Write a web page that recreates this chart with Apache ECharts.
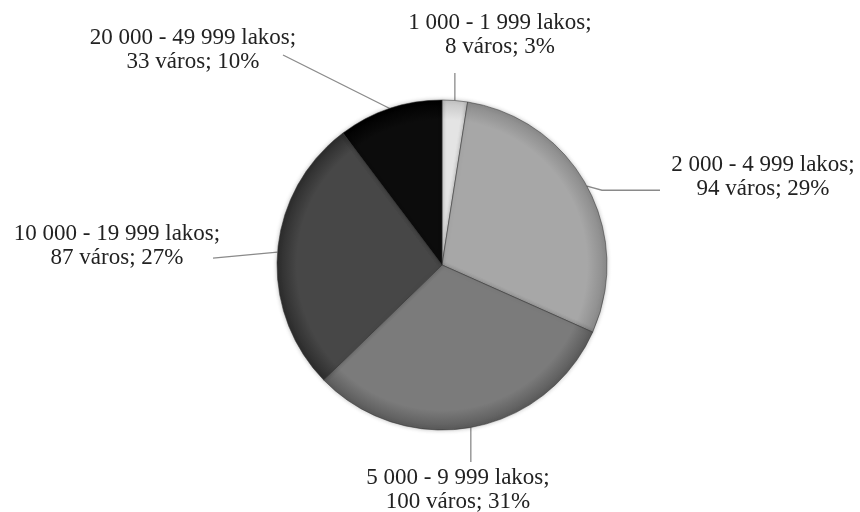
<!DOCTYPE html>
<html>
<head>
<meta charset="utf-8">
<script src="https://cdn.jsdelivr.net/npm/echarts@6/dist/echarts.min.js"></script>
<style>
html,body{margin:0;padding:0;background:#fff;}
#chart{width:860px;height:512px;}
</style>
</head>
<body>
<div id="chart"></div>
<script>
// Data
const categories = ['1 000 - 1 999 lakos', '2 000 - 4 999 lakos', '5 000 - 9 999 lakos', '10 000 - 19 999 lakos', '20 000 - 49 999 lakos'];
const towns = [8, 94, 100, 87, 33];
const percents = [3, 29, 31, 27, 10];

// Styling / layout
const baseColors = ['#e4e4e4', '#a7a7a7', '#7b7b7b', '#474747', '#0c0c0c'];
const rimColors = ['#c4c4c4', '#8a8a8a', '#5a5a5a', '#2c2c2c', '#000000'];
const CX = 442, CY = 265, R = 165;
// label block centres and leader-line end offsets
const labelLayouts = [
  { x: 500, y: 35, line: function (a) { return [a, [a[0], 73], [a[0], 73]]; } },
  { x: 763, y: 177, line: function (a) { return [a, [a[0] + 15, a[1] + 4], [660, a[1] + 4]]; } },
  { x: 458, y: 490, line: function (a) { return [a, [a[0], 462], [a[0], 462]]; } },
  { x: 117, y: 246, line: function (a) { return [a, [213, a[1] + 6], [213, a[1] + 6]]; } },
  { x: 193, y: 50, line: function (a) { return [a, [283, 55], [283, 55]]; } }
];

const data = categories.map(function (c, i) {
  return {
    name: c,
    value: towns[i],
    itemStyle: {
      color: {
        type: 'radial', x: CX, y: CY, r: R, global: true,
        colorStops: [
          { offset: 0, color: baseColors[i] },
          { offset: 0.88, color: baseColors[i] },
          { offset: 1, color: rimColors[i] }
        ]
      }
    }
  };
});

const chart = echarts.init(document.getElementById('chart'), null, { renderer: 'canvas' });
chart.setOption({
  backgroundColor: '#ffffff',
  animation: false,
  series: [{
    type: 'pie',
    center: [CX, CY],
    radius: [0, R],
    startAngle: 90,
    clockwise: true,
    avoidLabelOverlap: false,
    data: data,
    itemStyle: {
      borderColor: 'rgba(50,50,50,0.65)',
      borderWidth: 0.8,
      shadowBlur: 4,
      shadowColor: 'rgba(0,0,0,0.25)'
    },
    label: {
      show: true,
      position: 'outside',
      fontFamily: '"Liberation Serif", "DejaVu Serif", serif',
      fontSize: 23,
      lineHeight: 24,
      color: '#222222',
      align: 'center',
      formatter: function (p) {
        return p.name + ';\n' + towns[p.dataIndex] + ' város; ' + percents[p.dataIndex] + '%';
      }
    },
    labelLine: {
      show: true,
      length: 10,
      length2: 10,
      smooth: false,
      lineStyle: { color: '#8a8a8a', width: 1.3 }
    },
    labelLayout: function (p) {
      const L = labelLayouts[p.dataIndex];
      const res = { x: L.x, y: L.y, align: 'center', verticalAlign: 'middle' };
      if (p.labelLinePoints && p.labelLinePoints.length) {
        const a = p.labelLinePoints[0];
        res.labelLinePoints = L.line([a[0], a[1]]);
      }
      return res;
    }
  }]
});
</script>
</body>
</html>
